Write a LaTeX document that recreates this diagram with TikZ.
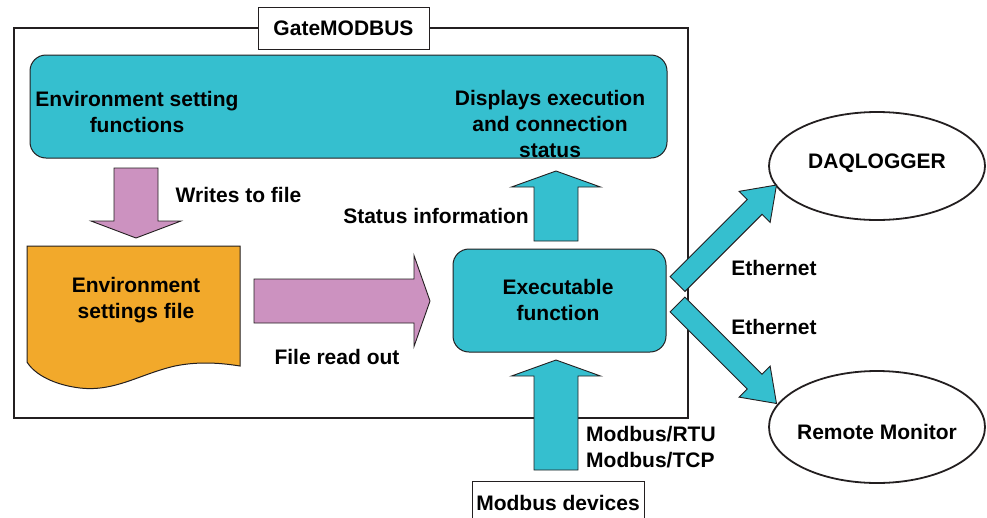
\documentclass[tikz,border=0pt]{standalone}
\usepackage{fontspec}
\setmainfont{Liberation Sans}
\usetikzlibrary{calc,shapes.geometric}

\definecolor{gmteal}{RGB}{53,191,207}
\definecolor{gmpink}{RGB}{204,146,192}
\definecolor{gmorange}{RGB}{242,169,43}
\definecolor{gmline}{RGB}{35,31,32}

\tikzset{
  panel/.style={draw=gmline, line width=1pt, fill=gmteal, rounded corners=16pt},
  fatpink/.style={draw=gmline, line width=0.9pt, fill=gmpink},
  fatteal/.style={draw=gmline, line width=0.9pt, fill=gmteal},
  tagbox/.style={draw=gmline, line width=1pt, fill=white, inner sep=0pt},
  oval/.style={draw=gmline, line width=1.8pt, ellipse, inner sep=0pt},
  lbl/.style={inner sep=0pt, align=center}
}

% #1 style, #2 from, #3 to, #4 shaft half width, #5 head half width, #6 head length
\newcommand{\fatarrow}[6]{%
  \coordinate (fa-base) at ($(#3)!#6!(#2)$);
  \draw[#1] ($(#2)!#4!90:(#3)$) -- ($(fa-base)!#4!90:(#3)$) -- ($(fa-base)!#5!90:(#3)$)
    -- (#3) -- ($(fa-base)!#5!-90:(#3)$) -- ($(fa-base)!#4!-90:(#3)$) -- ($(#2)!#4!-90:(#3)$) -- cycle;
}

\begin{document}
\begin{tikzpicture}[x=1pt, y=-1pt, font=\bfseries\fontsize{21}{26}\selectfont]
\clip (0,0) rectangle (987,517);

% outer frame
\draw[gmline, line width=2pt] (14,28) rectangle (688,418);
\node[tagbox, minimum width=171pt, minimum height=42pt] (gate) at (343.5,28) {GateMODBUS};

% top panel
\node[panel, minimum width=637pt, minimum height=103pt] (top) at (348.5,106.5) {};
\node[lbl] (envfun) at (137,112) {Environment setting\\functions};
\node[lbl] (disp) at (550,124) {Displays execution\\and connection\\status};

% environment settings file
\draw[draw=gmline, line width=1pt, fill=gmorange] (27,246) -- (240,246) -- (240,366)
  .. controls (215,362) and (195,362) .. (175,366)
  .. controls (140,374) and (115,392) .. (80,388)
  .. controls (55,385) and (35,375) .. (27,362) -- cycle;
\node[lbl] (file) at (136,300) {Environment\\settings file};

% executable function
\node[panel, minimum width=213pt, minimum height=103pt] (exec) at (559.5,300.5) {};
\node[lbl] (exectext) at (558,300) {Executable\\function};

% external nodes
\node[oval, minimum width=216pt, minimum height=108pt] (daq) at (877,166) {};
\node[lbl] at (877,163) {DAQLOGGER};
\node[oval, minimum width=216pt, minimum height=112pt] (remote) at (877,427) {};
\node[lbl] at (877,432) {Remote Monitor};
\node[tagbox, minimum width=172pt, minimum height=40pt] (devices) at (558,501) {};
\node[lbl] at (558,503) {Modbus devices};

% arrow ends
\coordinate (wr-s) at (136,168);
\coordinate (wr-e) at (136,238);
\coordinate (rd-s) at (254,301);
\coordinate (rd-e) at (430,301);
\coordinate (st-s) at (556,241);
\coordinate (st-e) at (556,171);
\coordinate (mb-s) at (556,470);
\coordinate (mb-e) at (556,360);
\coordinate (e1-s) at (677.5,284);
\coordinate (e1-e) at (776.5,185);
\coordinate (e2-s) at (677.5,304.5);
\coordinate (e2-e) at (776.5,403.5);

\fatarrow{fatpink}{wr-s}{wr-e}{22pt}{45pt}{17pt}
\fatarrow{fatpink}{rd-s}{rd-e}{22pt}{45.5pt}{16pt}
\fatarrow{fatteal}{st-s}{st-e}{22pt}{44.5pt}{16pt}
\fatarrow{fatteal}{mb-s}{mb-e}{22pt}{44.5pt}{16pt}
\fatarrow{fatteal}{e1-s}{e1-e}{10.5pt}{22pt}{31pt}
\fatarrow{fatteal}{e2-s}{e2-e}{10.5pt}{22pt}{31pt}

% labels
\node[lbl] at (238.5,195) {Writes to file};
\node[lbl] at (337,357) {File read out};
\node[lbl, anchor=east] at (529,216) {Status information};
\node[lbl, anchor=west, align=left] at (586,447.5) {Modbus/RTU\\Modbus/TCP};
\node[lbl] at (774,268) {Ethernet};
\node[lbl] at (774,327) {Ethernet};
\end{tikzpicture}
\end{document}
